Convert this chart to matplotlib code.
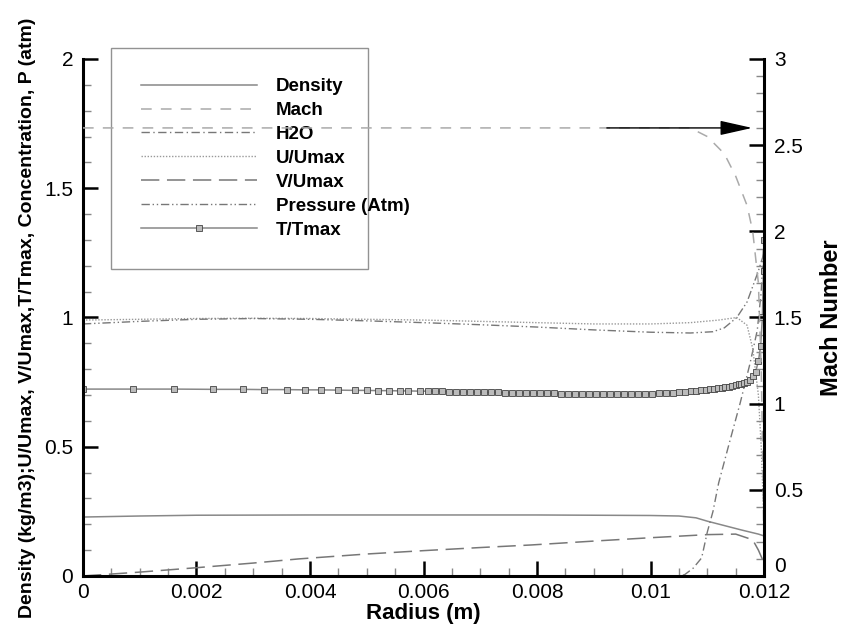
import matplotlib
matplotlib.use('Agg')
import matplotlib.pyplot as plt
from matplotlib.ticker import MultipleLocator

plt.rcParams['font.family'] = ['Liberation Sans', 'DejaVu Sans']

### data (radius in m)

r_dens = [0, 0.001, 0.002, 0.004, 0.006, 0.008, 0.010, 0.0105, 0.0108, 0.011,
          0.0113, 0.0116, 0.0119, 0.012]
dens = [0.228, 0.232, 0.235, 0.236, 0.236, 0.236, 0.234, 0.232, 0.225, 0.212,
        0.195, 0.178, 0.162, 0.155]

r_mach = [0, 0.002, 0.004, 0.006, 0.008, 0.010, 0.0107, 0.0110, 0.0113, 0.0115,
          0.0117, 0.0118, 0.0119, 0.01195, 0.01198, 0.012]
mach = [2.6, 2.6, 2.6, 2.6, 2.6, 2.6, 2.6, 2.55, 2.45, 2.32,
        2.15, 2.0, 1.7, 1.2, 0.6, 0.08]

r_h2o = [0, 0.002, 0.004, 0.006, 0.008, 0.010, 0.0105, 0.0106, 0.01075, 0.0109,
         0.0110, 0.0111, 0.0112, 0.01137, 0.01158, 0.01175, 0.01188, 0.01195, 0.012]
h2o = [0, 0, 0, 0, 0, 0, 0, 0.005, 0.03, 0.07,
       0.17, 0.25, 0.36, 0.5, 0.67, 0.82, 0.95, 1.1, 1.32]

r_u = [0, 0.001, 0.002, 0.003, 0.004, 0.006, 0.008, 0.009, 0.010, 0.0107,
       0.0112, 0.01152, 0.0117, 0.0118, 0.0119, 0.01195, 0.012]
u = [0.99, 0.993, 0.996, 0.997, 0.996, 0.99, 0.98, 0.975, 0.975, 0.98,
     0.99, 1.0, 0.97, 0.88, 0.7, 0.5, 0.2]

r_v = [0, 0.001, 0.002, 0.003, 0.0038, 0.005, 0.006, 0.007, 0.0079, 0.009,
       0.010, 0.011, 0.0115, 0.0118, 0.0119, 0.012]
v = [0, 0.015, 0.032, 0.05, 0.066, 0.085, 0.098, 0.11, 0.12, 0.135,
     0.148, 0.16, 0.162, 0.14, 0.1, 0.05]

r_p = [0, 0.001, 0.002, 0.003, 0.004, 0.005, 0.006, 0.007, 0.008, 0.009,
       0.010, 0.0107, 0.0111, 0.0113, 0.01152, 0.0117, 0.0119, 0.012]
p = [0.975, 0.985, 0.993, 0.996, 0.993, 0.987, 0.98, 0.972, 0.963, 0.952,
     0.943, 0.94, 0.945, 0.96, 1.0, 1.06, 1.18, 1.25]

# T/Tmax is drawn on the grid points (square markers)
r_t = [0, 0.00088, 0.00160, 0.00229, 0.00282, 0.00319, 0.00359, 0.00391, 0.00419, 0.00449,
       0.00479, 0.00500, 0.00520, 0.00539, 0.00559, 0.00573, 0.00594, 0.00608, 0.00620, 0.00633,
       0.00645, 0.00657, 0.00669, 0.00682, 0.00694, 0.00706, 0.00719, 0.00731, 0.00743, 0.00756,
       0.00768, 0.00780, 0.00793, 0.00805, 0.00817, 0.00830, 0.00842, 0.00854, 0.00867, 0.00879,
       0.00891, 0.00904, 0.00916, 0.00928, 0.00941, 0.00953, 0.00965, 0.00978, 0.00990, 0.01002,
       0.01015, 0.01027, 0.01039, 0.01050, 0.01061, 0.01071, 0.01080, 0.01089, 0.01097, 0.01105,
       0.01112, 0.01119, 0.01126, 0.01132, 0.01138, 0.01144, 0.01150, 0.01155, 0.01160, 0.01165,
       0.01170, 0.01175, 0.01180, 0.01185, 0.01190, 0.01194, 0.01197, 0.01199, 0.012]
t = [0.723, 0.723, 0.723, 0.722, 0.722, 0.721, 0.721, 0.720, 0.720, 0.719,
     0.718, 0.718, 0.717, 0.717, 0.716, 0.716, 0.715, 0.715, 0.714, 0.714,
     0.713, 0.713, 0.712, 0.712, 0.711, 0.711, 0.710, 0.710, 0.709, 0.709,
     0.708, 0.708, 0.707, 0.707, 0.706, 0.706, 0.705, 0.705, 0.704, 0.704,
     0.704, 0.703, 0.703, 0.703, 0.703, 0.703, 0.703, 0.704, 0.704, 0.705,
     0.706, 0.707, 0.709, 0.711, 0.713, 0.715, 0.717, 0.719, 0.721, 0.723,
     0.725, 0.727, 0.729, 0.731, 0.733, 0.736, 0.738, 0.741, 0.744, 0.747,
     0.752, 0.760, 0.772, 0.790, 0.83, 0.89, 1.0, 1.18, 1.3]

# tick labels
x_ticks = [0, 0.002, 0.004, 0.006, 0.008, 0.01, 0.012]
x_labels = ['0', '0.002', '0.004', '0.006', '0.008', '0.01', '0.012']
y_ticks = [0, 0.5, 1, 1.5, 2]
y_labels = ['0', '0.5', '1', '1.5', '2']
mach_ticks = [0, 0.5, 1, 1.5, 2, 2.5, 3]
mach_labels = ['0', '0.5', '1', '1.5', '2', '2.5', '3']

### plot

fig = plt.figure(figsize=(8.44, 6.31), dpi=100)
ax = fig.add_axes([0.0983, 0.0872, 0.807, 0.8193])
ax2 = ax.twinx()

gray = '#888888'
h_dens, = ax.plot(r_dens, dens, color=gray, lw=1.1, label='Density')
h_h2o, = ax.plot(r_h2o, h2o, color='#777777', lw=1.0, dashes=(6, 2.5, 1, 2.5), label='H2O')
h_u, = ax.plot(r_u, u, color='#999999', lw=1.0, dashes=(1, 1.2), label='U/Umax')
h_v, = ax.plot(r_v, v, color='#777777', lw=1.1, dashes=(12, 5), label='V/Umax')
h_p, = ax.plot(r_p, p, color='#777777', lw=1.0, dashes=(6, 2, 1, 2, 1, 2), label='Pressure (Atm)')
h_t, = ax.plot(r_t, t, color=gray, lw=1.1, marker='s', ms=4, mfc='#bbbbbb',
               mec='#444444', mew=0.6, label='T/Tmax')
h_mach, = ax2.plot(r_mach, mach, color='#aaaaaa', lw=1.1, dashes=(7, 6), label='Mach')

# arrow on the Mach line
ax2.annotate('', xy=(0.01179, 2.6), xytext=(0.00923, 2.6),
             arrowprops=dict(arrowstyle='-|>,head_length=2.0,head_width=0.45',
                             color='black', lw=1.0, shrinkA=0, shrinkB=0))

ax.set_xlim(0, 0.012)
ax.set_ylim(0, 2)
ax2.set_ylim(0, 3)

ax.set_xticks(x_ticks)
ax.set_xticklabels(x_labels)
ax.set_yticks(y_ticks)
ax.set_yticklabels(y_labels)
ax2.set_yticks(mach_ticks)
ax2.set_yticklabels(mach_labels)
ax.xaxis.set_minor_locator(MultipleLocator(0.0005))
ax.yaxis.set_minor_locator(MultipleLocator(0.1))
ax2.yaxis.set_minor_locator(MultipleLocator(0.1))

for a in (ax, ax2):
    a.spines['top'].set_visible(False)
    for s in a.spines.values():
        s.set_linewidth(2.2)
ax.spines['right'].set_visible(False)
ax2.spines['left'].set_visible(False)
ax2.spines['bottom'].set_visible(False)

ax.tick_params(which='major', direction='in', length=11, width=1.8, labelsize=15,
               pad=7, right=False, top=False)
ax.tick_params(which='minor', direction='in', length=6, width=1.0, color='#888888',
               right=False, top=False)
ax2.tick_params(which='major', direction='in', length=11, width=1.8, labelsize=15, pad=7)
ax2.tick_params(which='minor', direction='in', length=6, width=1.0, color='#888888')
ax.tick_params(axis='x', pad=5)

# right-hand "0" sits just above the corner so it clears "0.012"
ax2.yaxis.get_major_ticks()[0].label2.set_verticalalignment('bottom')

ax.set_xlabel('Radius (m)', fontsize=16, fontweight='bold', labelpad=1)
ax.set_ylabel('Density (kg/m3);U/Umax, V/Umax,T/Tmax, Concentration, P (atm)',
              fontsize=14, fontweight='bold', labelpad=6)
ax2.set_ylabel('Mach Number', fontsize=17, fontweight='bold', labelpad=12)

handles = [h_dens, h_mach, h_h2o, h_u, h_v, h_p, h_t]
leg = ax.legend(handles=handles, loc='upper left', bbox_to_anchor=(0.041, 1.021, 0.378, 0.0),
                mode='expand', borderaxespad=0, frameon=True, fancybox=False,
                borderpad=1.6, labelspacing=0.36, handlelength=6.2, handletextpad=1.0,
                prop={'weight': 'bold', 'size': 13.5})
leg.get_frame().set_edgecolor('#777777')
leg.get_frame().set_linewidth(1.0)
leg.set_zorder(5)

plt.savefig('out.png', dpi=100)
